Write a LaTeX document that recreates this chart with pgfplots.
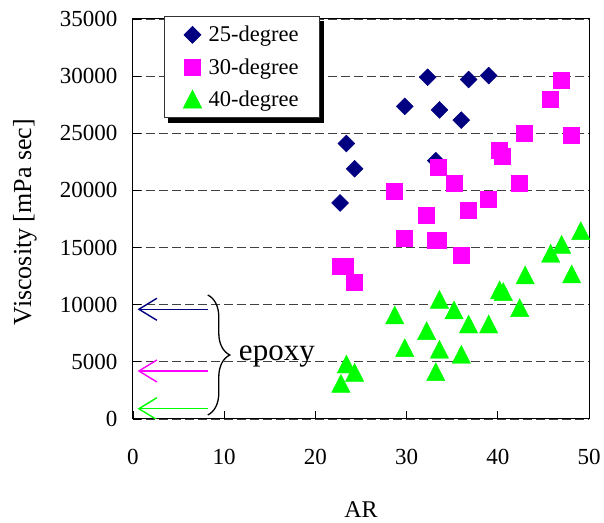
\documentclass[border=0pt]{standalone}
\usepackage{fontspec}
\setmainfont{Liberation Serif}
\usepackage{pgfplots}
\pgfplotsset{compat=1.18}
\usetikzlibrary{shadows,decorations.pathreplacing,arrows.meta}

\definecolor{navyd}{RGB}{0,0,128}
\definecolor{magd}{RGB}{255,0,255}
\definecolor{grnd}{RGB}{0,255,0}

\tikzset{epoxyarrow/.style={line width=1.4pt, -{Straight Barb[length=18pt,width=22pt]}}}

\begin{document}
\begin{tikzpicture}
\begin{axis}[
    scale only axis,
    width=456pt, height=400pt,
    xmin=0, xmax=50, ymin=0, ymax=35000,
    xtick={0,10,...,50},
    ytick={0,5000,...,35000},
    tick align=inside,
    xtick pos=left, ytick pos=left,
    major tick length=8pt,
    scaled y ticks=false,
    axis line style={black, line width=1pt},
    tick style={black, line width=0.8pt},
    ymajorgrids=true,
    grid style={black!75, line width=0.8pt, dash pattern=on 9pt off 4pt},
    yticklabel style={/pgf/number format/1000 sep={}, /pgf/number format/assume math mode=true,
        font=\fontsize{23}{27}\selectfont, xshift=-12pt},
    xticklabel style={/pgf/number format/assume math mode=true,
        font=\fontsize{23}{27}\selectfont, yshift=-27pt},
    xlabel={AR},
    ylabel={Viscosity [mPa sec]},
    xlabel style={at={(rel axis cs:0.5,-0.2275)}, anchor=center, font=\fontsize{24}{28}\selectfont},
    ylabel style={at={(rel axis cs:-0.237,0.4925)}, anchor=center, font=\fontsize{26}{30}\selectfont},
    legend cell align=left,
    legend style={at={(0.068,1.0075)}, anchor=north west,
        draw=black!80, line width=0.6pt, fill=white,
        font=\fontsize{22.5}{27}\selectfont,
        inner xsep=19pt, inner ysep=8pt, row sep=11pt, column sep=5pt,
        drop shadow={shadow xshift=4pt, shadow yshift=-5pt, fill=black, opacity=1}},
]
% 25-degree
\addplot[only marks, mark=square*, color=navyd, mark size=6pt, mark options={rotate=45}]
    coordinates {(22.7,18900) (23.4,24100) (24.3,21900) (29.8,27350) (32.3,29900)
                 (33.2,22600) (33.6,27050) (36.0,26150) (36.8,29700) (39.0,30050)};
% 30-degree
\addplot[only marks, mark=square*, color=magd, mark size=8pt]
    coordinates {(46.9,29650) (45.7,28000) (42.9,25000) (48.0,24850) (40.1,23480)
                 (40.5,23010) (33.5,22000) (35.2,20650) (42.4,20650) (28.6,19950)
                 (39.0,19200) (32.2,17800) (36.7,18250) (29.7,15800) (33.1,15660)
                 (33.5,15660) (36.0,14350) (22.75,13400) (23.3,13400) (24.3,11950)};
% 40-degree
\addplot[only marks, mark=triangle*, color=grnd, mark size=10.6pt,
         mark options={yshift=-3pt, yscale=1.13}]
    coordinates {(49.1,16480) (47.0,15280) (45.8,14500) (43.0,12600) (48.1,12690)
                 (40.2,11300) (40.6,11150) (33.6,10470) (42.4,9740) (35.2,9540)
                 (28.7,9100) (36.8,8310) (39.0,8310) (32.2,7730) (29.8,6240)
                 (33.6,6100) (36.0,5660) (23.4,4810) (24.3,4080) (33.2,4140) (22.8,3120)};
\legend{25-degree,30-degree,40-degree}

% epoxy reference levels
\draw[navyd, epoxyarrow] (axis cs:8.2,9600) -- (axis cs:0.5,9600);
\draw[magd, epoxyarrow] (axis cs:8.2,4200) -- (axis cs:0.5,4200);
\draw[grnd, epoxyarrow] (axis cs:8.2,900) -- (axis cs:0.5,900);
\draw[black, line width=1.3pt, decorate, decoration={brace, amplitude=22pt, aspect=0.5}]
    (axis cs:8.2,10850) -- (axis cs:8.2,350);
\node[anchor=base west, inner sep=0pt, font=\fontsize{31}{36}\selectfont]
    at (axis cs:11.6,5160) {epoxy};

\coordinate (bl) at (rel axis cs:0,0);
\coordinate (tr) at (rel axis cs:1,1);
\end{axis}
\pgfresetboundingbox
\path ([shift={(-133pt,-104pt)}]bl) rectangle ([shift={(15pt,19pt)}]tr);
\end{tikzpicture}
\end{document}
